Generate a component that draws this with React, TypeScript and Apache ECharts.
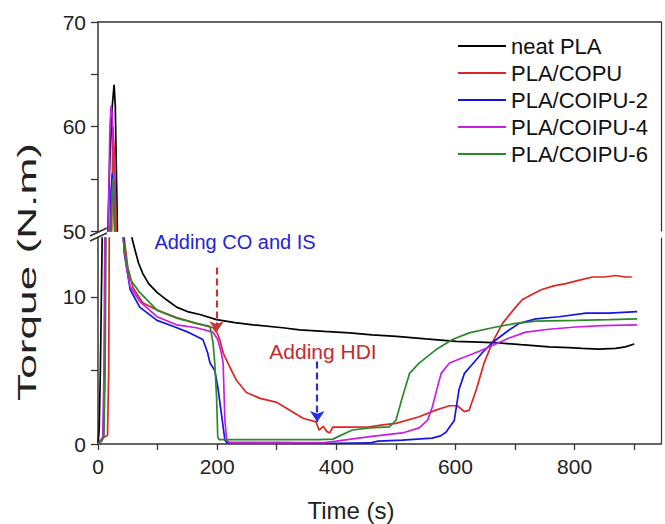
import React, { useEffect, useRef } from "react";
import * as echarts from "echarts";

const FONT = "'Liberation Sans', Arial, Helvetica, sans-serif";

// [time (s), torque (N.m)]
const neatPLA: number[][] = [
  [0, 0], [2, 1], [4, 5], [7, 14], [10, 30], [14, 45], [20, 57], [24, 62], [27, 64], [29, 62], [32, 52],
  [36, 35], [42, 22], [50, 16], [57, 14], [62, 13.2], [68, 12.3], [75, 11.6], [85, 10.9], [99, 10.3],
  [115, 9.8], [132, 9.3], [150, 9.0], [171, 8.8], [199, 8.45], [230, 8.25], [260, 8.1], [310, 7.9],
  [338, 7.76], [380, 7.65], [422, 7.55], [460, 7.42], [501, 7.32], [550, 7.15], [601, 6.98], [640, 6.92],
  [673, 6.87], [710, 6.75], [757, 6.6], [790, 6.55], [813, 6.5], [840, 6.45], [869, 6.5], [885, 6.6], [900, 6.8],
];

const plaCOPU: number[][] = [
  [0, 0], [5, 0.3], [12, 0.5], [16, 0.6], [18, 5], [20, 25], [23, 50], [25, 60], [27, 58], [30, 52],
  [34, 40], [40, 20], [44, 14], [50, 12], [59, 10.6], [75, 9.6], [99, 9.1], [132, 8.6], [165, 8.2],
  [193, 7.9], [200, 7.55], [205, 7.0], [210, 6.2], [221, 5.25], [232, 4.35], [249, 3.5], [272, 3.1],
  [299, 2.85], [322, 2.3], [344, 1.75], [366, 1.5], [371, 0.95], [378, 1.2], [384, 0.85], [389, 0.75],
  [394, 1.15], [422, 1.15], [456, 1.16], [478, 1.3], [500, 1.4], [539, 1.85], [567, 2.3], [590, 2.6],
  [603, 2.6], [615, 2.2], [623, 2.3], [635, 3.7], [648, 5.5], [662, 6.9], [679, 8.2], [701, 9.3],
  [712, 9.8], [730, 10.2], [745, 10.5], [765, 10.75], [785, 10.9], [810, 11.15], [830, 11.35], [850, 11.35],
  [869, 11.45], [885, 11.35], [896, 11.35],
];

const plaCOIPU2: number[][] = [
  [0, 0], [6, 0.2], [9, 0.5], [11, 5], [14, 25], [18, 45], [22, 54], [24, 55.5], [26, 54], [28, 50],
  [34, 35], [40, 18], [44, 13], [54, 10.5], [70, 9.3], [99, 8.4], [126, 8.0], [154, 7.55], [176, 7.1],
  [184, 6.2], [188, 5.5], [196, 5.0], [201, 3.9], [207, 2.1], [213, 0.27], [216, 0.1], [300, 0.1],
  [400, 0.05], [456, 0.07], [470, 0.2], [511, 0.27], [561, 0.4], [575, 0.55], [584, 0.8], [598, 1.6],
  [606, 3.7], [615, 4.8], [628, 5.4], [645, 6.2], [662, 6.9], [690, 7.75], [707, 8.2], [735, 8.5],
  [774, 8.65], [819, 8.9], [858, 8.9], [905, 9.0],
];

const plaCOIPU4: number[][] = [
  [0, 0], [5, 0.2], [8, 0.5], [10, 5], [13, 25], [17, 50], [20, 60], [22, 62], [24, 61], [27, 55],
  [31, 45], [37, 25], [42, 14], [48, 12], [54, 10.7], [70, 9.7], [99, 8.65], [132, 8.1], [165, 7.9],
  [193, 7.6], [201, 7.1], [207, 6.2], [210, 5.5], [213, 1.6], [216, 0.27], [220, 0.1], [380, 0.1],
  [400, 0.2], [456, 0.5], [511, 0.75], [539, 1.1], [553, 1.6], [561, 2.5], [570, 3.9], [576, 4.8],
  [590, 5.5], [611, 5.85], [640, 6.3], [662, 6.7], [690, 7.2], [718, 7.6], [757, 7.8], [802, 7.95],
  [846, 8.05], [905, 8.1],
];

const plaCOIPU6: number[][] = [
  [0, 0], [6, 0.2], [10, 0.5], [12, 5], [15, 25], [19, 45], [23, 53], [25, 55], [27, 52], [31, 45],
  [37, 25], [42, 14], [48, 12.3], [54, 11.2], [70, 10.3], [99, 9.1], [132, 8.55], [165, 8.2], [188, 8.0],
  [193, 6.9], [196, 5.5], [199, 3.2], [201, 0.5], [203, 0.3], [370, 0.3], [394, 0.33], [427, 0.95],
  [456, 1.1], [489, 1.16], [500, 1.6], [511, 3.2], [523, 4.8], [539, 5.5], [567, 6.4], [595, 7.1],
  [623, 7.55], [662, 7.9], [701, 8.2], [735, 8.35], [802, 8.4], [858, 8.45], [905, 8.5],
];

const seriesNames = ["neat PLA", "PLA/COPU", "PLA/COIPU-2", "PLA/COIPU-4", "PLA/COIPU-6"];
const seriesColors = ["#000000", "#e02424", "#1414e6", "#c81ee6", "#2a8a2a"];
const seriesData = [neatPLA, plaCOPU, plaCOIPU2, plaCOIPU4, plaCOIPU6];

const xTicks = [0, 100, 200, 300, 400, 500, 600, 700, 800, 900];
const xLabels = [0, 200, 400, 600, 800];
const upperTicks = [50, 55, 60, 65, 70];
const upperLabels = [50, 60, 70];
const lowerTicks = [0, 5, 10];
const lowerLabels = [0, 10];

// annotation arrows: [time, fromTorque, toTorque]
const arrowCOIS = [199, 12.0, 7.6];
const arrowHDI = [368, 5.6, 1.5];

export default function App() {
  const ref = useRef<HTMLDivElement>(null);
  useEffect(() => {
    if (!ref.current) return;
    const chart = echarts.init(ref.current, null, { renderer: "svg" });
    const axisColor = "#333";
    const labelStyle = { fontSize: 21, color: "#222", fontFamily: FONT };

    const series: any[] = [];
    seriesNames.forEach((name, i) => {
      const common = {
        type: "line",
        name,
        data: seriesData[i],
        showSymbol: false,
        symbol: "none",
        clip: true,
        lineStyle: { color: seriesColors[i], width: 1.7 },
        itemStyle: { color: seriesColors[i] },
        z: 2 + i,
      };
      series.push({ ...common, xAxisIndex: 0, yAxisIndex: 0 });
      const lower: any = { ...common, xAxisIndex: 1, yAxisIndex: 1 };
      if (i === 0) {
        lower.markLine = {
          silent: true,
          symbol: ["none", "arrow"],
          symbolSize: 11,
          label: { show: false },
          data: [
            [
              { coord: [arrowCOIS[0], arrowCOIS[1]], lineStyle: { color: "#c0383a", type: [7, 4], width: 2.2 } },
              { coord: [arrowCOIS[0], arrowCOIS[2]] },
            ],
            [
              { coord: [arrowHDI[0], arrowHDI[1]], lineStyle: { color: "#2230e0", type: [7, 4], width: 2.2 } },
              { coord: [arrowHDI[0], arrowHDI[2]] },
            ],
          ],
        };
      }
      series.push(lower);
    });

    const option: any = {
      animation: false,
      legend: {
        data: seriesNames,
        orient: "vertical",
        left: 453,
        top: 30,
        itemWidth: 48,
        itemHeight: 2,
        itemGap: 5,
        icon: "rect",
        textStyle: { fontSize: 22, lineHeight: 22, color: "#111", fontFamily: FONT },
      },
      grid: [
        { left: 98, right: 4, top: 22, height: 209 },
        { left: 98, right: 4, top: 238, height: 206 },
      ],
      xAxis: [
        {
          gridIndex: 0, type: "value", min: 0, max: 945, position: "top",
          axisLine: { show: true, lineStyle: { color: axisColor, width: 1.5 } },
          axisTick: { show: false }, axisLabel: { show: false }, splitLine: { show: false },
        },
        {
          gridIndex: 1, type: "value", min: 0, max: 945, position: "bottom",
          axisLine: { show: true, onZero: false, lineStyle: { color: axisColor, width: 1.5 } },
          axisTick: { show: true, length: 6, customValues: xTicks, lineStyle: { color: axisColor, width: 1.3 } },
          axisLabel: { ...labelStyle, margin: 12, customValues: xLabels },
          splitLine: { show: false },
        },
      ],
      yAxis: [
        {
          gridIndex: 0, type: "value", min: 50, max: 70, position: "left",
          axisLine: { show: true, lineStyle: { color: axisColor, width: 1.5 } },
          axisTick: { show: true, length: 7, customValues: upperTicks, lineStyle: { color: axisColor, width: 1.3 } },
          axisLabel: { ...labelStyle, margin: 12, customValues: upperLabels },
          splitLine: { show: false },
        },
        {
          gridIndex: 1, type: "value", min: 0, max: 14, position: "left",
          axisLine: { show: true, onZero: false, lineStyle: { color: axisColor, width: 1.5 } },
          axisTick: { show: true, length: 7, customValues: lowerTicks, lineStyle: { color: axisColor, width: 1.3 } },
          axisLabel: { ...labelStyle, margin: 12, customValues: lowerLabels },
          splitLine: { show: false },
        },
        {
          gridIndex: 0, type: "value", min: 50, max: 70, position: "right",
          axisLine: { show: true, lineStyle: { color: axisColor, width: 1.2 } },
          axisTick: { show: false }, axisLabel: { show: false }, splitLine: { show: false },
        },
        {
          gridIndex: 1, type: "value", min: 0, max: 14, position: "right",
          axisLine: { show: true, onZero: false, lineStyle: { color: axisColor, width: 1.2 } },
          axisTick: { show: false }, axisLabel: { show: false }, splitLine: { show: false },
        },
      ],
      graphic: [
        {
          type: "text", x: 27, y: 272, rotation: Math.PI / 2, scaleX: 1.7,
          style: { text: "Torque (N.m)", fontSize: 26, fill: "#222", align: "center", verticalAlign: "middle", fontFamily: FONT },
        },
        {
          type: "text", x: 351, y: 510,
          style: { text: "Time (s)", fontSize: 24, fill: "#222", align: "center", verticalAlign: "middle", fontFamily: FONT },
        },
        {
          type: "text", x: 235, y: 242,
          style: { text: "Adding CO and IS", fontSize: 20, fill: "#2424d4", align: "center", verticalAlign: "middle", fontFamily: FONT },
        },
        {
          type: "text", x: 323, y: 351,
          style: { text: "Adding HDI", fontSize: 21, fill: "#c42a30", align: "center", verticalAlign: "middle", fontFamily: FONT },
        },
        {
          type: "line", shape: { x1: 90, y1: 236, x2: 107, y2: 228 },
          style: { stroke: axisColor, lineWidth: 1.5 },
        },
        {
          type: "line", shape: { x1: 90, y1: 241, x2: 107, y2: 233 },
          style: { stroke: axisColor, lineWidth: 1.5 },
        },
      ],
      series,
    };
    chart.setOption(option);
    return () => chart.dispose();
  }, []);
  return (
    <div
      ref={ref}
      style={{ position: "fixed", left: 0, top: 0, width: 665, height: 524, background: "#fff" }}
    />
  );
}
